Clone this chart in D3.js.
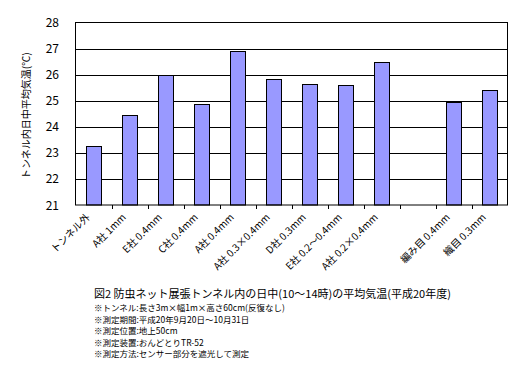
<!DOCTYPE html>
<html lang="ja">
<head>
<meta charset="UTF-8">
<title>防虫ネット展張トンネル内の平均気温</title>
<style>
    body { margin: 0; padding: 0; background: #fff; }
    text { font-family: "Noto Sans CJK JP", "Noto Sans", sans-serif; fill: #000; }
</style>
</head>
<body>
<div id="chart"></div>
<script src="https://d3js.org/d3.v7.min.js"></script>
<script>
    // categories (empty slot kept as a gap, like the original)
    const categories = ["トンネル外", "A社 1mm", "E社 0.4mm", "C社 0.4mm", "A社 0.4mm",
        "A社 0.3×0.4mm", "D社 0.3mm", "E社 0.2〜0.4mm", "A社 0.2×0.4mm", "",
        "編み目 0.4mm", "織目 0.3mm"];
    const temps = [23.25, 24.47, 25.98, 24.86, 26.89, 25.85, 25.66, 25.62, 26.47, null, 24.95, 25.43];
    const yTicks = [21, 22, 23, 24, 25, 26, 27, 28];
    const captionTitle = "図2  防虫ネット展張トンネル内の日中(10〜14時)の平均気温(平成20年度)";
    const captionNotes = [
        "※トンネル:長さ3m×幅1m×高さ60cm(反復なし)",
        "※測定期間:平成20年9月20日〜10月31日",
        "※測定位置:地上50cm",
        "※測定装置:おんどとりTR-52",
        "※測定方法:センサー部分を遮光して測定"
    ];

    const W = 522, H = 372;
    const plotL = 75.5, plotR = 507.5, plotT = 22.5, plotB = 205;

    const svg = d3.select("#chart").append("svg")
        .attr("width", W).attr("height", H);

    const x = d3.scaleBand().domain(d3.range(categories.length))
        .range([plotL, plotR]).paddingInner(0.575).paddingOuter(0.2875);
    const slot = d3.scaleBand().domain(d3.range(categories.length)).range([plotL, plotR]);
    const y = d3.scaleLinear().domain([21, 28]).range([plotB, plotT]);

    // gridlines
    svg.append("g").selectAll("line")
        .data(yTicks.slice(1, -1))
        .join("line")
        .attr("x1", plotL).attr("x2", plotR)
        .attr("y1", d => Math.round(y(d)) + 0.5).attr("y2", d => Math.round(y(d)) + 0.5)
        .attr("stroke", "#000").attr("stroke-width", 1);

    // y labels
    svg.append("g").selectAll("text")
        .data(yTicks)
        .join("text")
        .attr("x", 59).attr("y", d => y(d) + 4.5)
        .attr("text-anchor", "end")
        .style("font-size", "12px")
        .text(d => d);

    // bars
    svg.append("g").selectAll("rect")
        .data(temps.map((v, i) => ({ v, i })).filter(d => d.v != null))
        .join("rect")
        .attr("x", d => Math.round(x(d.i)) + 0.5)
        .attr("y", d => Math.round(y(d.v)) + 0.5)
        .attr("width", Math.round(x.bandwidth()))
        .attr("height", d => plotB - Math.round(y(d.v)) - 0.5)
        .attr("fill", "#9999ff")
        .attr("stroke", "#000").attr("stroke-width", 1);

    // plot frame
    svg.append("rect")
        .attr("x", plotL).attr("y", plotT)
        .attr("width", plotR - plotL).attr("height", plotB - plotT)
        .attr("fill", "none").attr("stroke", "#000").attr("stroke-width", 1);

    // category ticks
    svg.append("g").selectAll("line")
        .data(d3.range(1, categories.length))
        .join("line")
        .attr("x1", d => Math.round(slot(d)) + 0.5).attr("x2", d => Math.round(slot(d)) + 0.5)
        .attr("y1", plotB).attr("y2", plotB + 4)
        .attr("stroke", "#000");

    // category labels, rotated
    svg.append("g").selectAll("text")
        .data(categories)
        .join("text")
        .attr("transform", (d, i) => `translate(${slot(i) + slot.bandwidth() / 2 - 3},${plotB + 13}) rotate(-45)`)
        .attr("text-anchor", "end")
        .style("font-size", "10px")
        .text(d => d);

    // y title
    svg.append("text")
        .attr("transform", `translate(30,${(plotT + plotB) / 2 + 2}) rotate(-90)`)
        .attr("text-anchor", "middle")
        .style("font-size", "10px")
        .text("トンネル内日中平均気温(℃)");

    // caption
    svg.append("text")
        .attr("x", 94).attr("y", 298)
        .style("font-size", "11px")
        .text(captionTitle);

    svg.append("g").selectAll("text")
        .data(captionNotes)
        .join("text")
        .attr("x", 94)
        .attr("y", (d, i) => 311 + i * 11.5)
        .style("font-size", "8.5px")
        .text(d => d);
</script>
</body>
</html>
